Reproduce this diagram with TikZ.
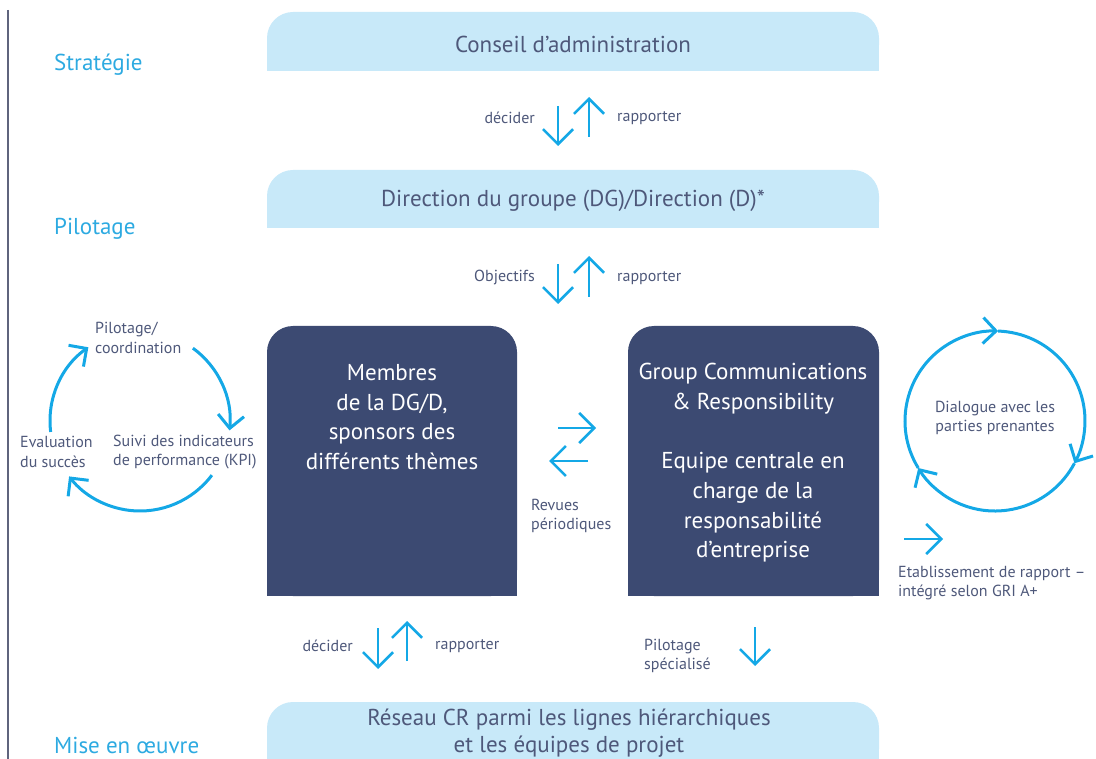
\documentclass[tikz,border=0pt]{standalone}
\usepackage{fontspec}
\setmainfont{PT Sans}
\usetikzlibrary{arrows.meta}
\definecolor{boxlight}{RGB}{200,233,249}
\definecolor{boxdark}{RGB}{60,74,114}
\definecolor{arrowblue}{RGB}{20,168,230}
\definecolor{tierblue}{RGB}{45,170,225}
\definecolor{textgray}{RGB}{78,88,122}
\definecolor{rulegray}{RGB}{95,100,125}
\tikzset{
  boxtext/.style={text=textgray, font=\fontsize{23}{27}\selectfont, align=center, inner sep=0pt},
  darktext/.style={text=white, font=\fontsize{23}{29.7}\selectfont, align=center, inner sep=0pt},
  small/.style={text=textgray, font=\fontsize{16}{19.5}\selectfont, align=left, inner sep=0pt},
  tier/.style={text=tierblue, font=\fontsize{23}{25}\selectfont, anchor=west, inner sep=0pt},
  arr/.style={draw=arrowblue, line width=2.6pt, -{Straight Barb[length=15pt,width=30pt]}},
  cyc/.style={draw=arrowblue, line width=3pt, -{Straight Barb[length=13pt,width=26pt]}},
}
\begin{document}
\begin{tikzpicture}[x=1pt,y=-1pt]
\useasboundingbox (0,0) rectangle (1096,759);
\pgfmathsetmacro{\r}{26}
\draw[rulegray, line width=1.2pt] (8,10) -- (8,759);
% boxes (round top, square bottom)
\fill[boxlight, rounded corners=\r] (267,12) rectangle (879,71);
\fill[boxlight] (267,45) rectangle (879,71);
\fill[boxlight, rounded corners=\r] (267,170) rectangle (879,228);
\fill[boxlight] (267,200) rectangle (879,228);
\fill[boxdark, rounded corners=\r] (267,326) rectangle (517,596);
\fill[boxdark] (267,400) rectangle (517,596);
\fill[boxdark, rounded corners=\r] (628,326) rectangle (879,596);
\fill[boxdark] (628,400) rectangle (879,596);
\fill[boxlight, rounded corners=\r] (267,702) rectangle (879,775);
\fill[boxlight] (267,740) rectangle (879,775);
% tiers
\node[tier] (strategie) at (54,65) {Stratégie};
\node[tier] (pilotage) at (54,229) {Pilotage};
\node[tier] (miseoeuvre) at (54,745) {Mise en œuvre};
% box texts
\node[boxtext] (conseil) at (573,44) {Conseil d’administration};
\node[boxtext] (direction) at (573,201) {Direction du groupe (DG)/Direction (D)*};
\node[boxtext] (reseau) at (569,733) {Réseau CR parmi les lignes hiérarchiques\\et les équipes de projet};
\node[darktext] (membres) at (392,417) {Membres\\de la DG/D,\\sponsors des\\différents thèmes};
\node[darktext] (groupcr) at (753,463) {Group Communications\\\& Responsibility\\[29.7pt]Equipe centrale en\\charge de la\\responsabilité\\d’entreprise};
% labels
\node[small, anchor=east] (decider1) at (535,118) {décider};
\node[small, anchor=west] (rapporter1) at (617,118) {rapporter};
\node[small, anchor=east] (objectifs) at (535,278) {Objectifs};
\node[small, anchor=west] (rapporter2) at (617,278) {rapporter};
\node[small, anchor=west] (revues) at (531,516) {Revues\\périodiques};
\node[small, anchor=east] (decider2) at (353,646) {décider};
\node[small, anchor=west] (rapporter3) at (435,646) {rapporter};
\node[small, anchor=west] (specialise) at (644,656) {Pilotage\\spécialisé};
\node[small, anchor=west] (coordination) at (95,338) {Pilotage/\\coordination};
\node[small, anchor=west] (evaluation) at (20,452) {Evaluation\\du succès};
\node[small, anchor=west] (suivi) at (113,452) {Suivi des indicateurs\\de performance (KPI)};
\node[small, align=center] (dialogue) at (995,418) {Dialogue avec les\\parties prenantes};
\node[small, anchor=west] (etablissement) at (898,583) {Etablissement de rapport –\\intégré selon GRI A+};
% arrow ends
\coordinate (d1a) at (558,106); \coordinate (d1b) at (558,146);
\coordinate (u1a) at (589,137); \coordinate (u1b) at (589,97);
\coordinate (d2a) at (558,264); \coordinate (d2b) at (558,304);
\coordinate (u2a) at (589,297); \coordinate (u2b) at (589,256);
\coordinate (r1a) at (558,428); \coordinate (r1b) at (596,428);
\coordinate (l1a) at (588,461); \coordinate (l1b) at (549,461);
\coordinate (d3a) at (378,628); \coordinate (d3b) at (378,669);
\coordinate (u3a) at (407,661); \coordinate (u3b) at (407,621);
\coordinate (d4a) at (755,627); \coordinate (d4b) at (755,666);
\coordinate (r2a) at (904,539); \coordinate (r2b) at (943,539);
\draw[arr] (d1a) -- (d1b);
\draw[arr] (u1a) -- (u1b);
\draw[arr] (d2a) -- (d2b);
\draw[arr] (u2a) -- (u2b);
\draw[arr] (r1a) -- (r1b);
\draw[arr] (l1a) -- (l1b);
\draw[arr] (d3a) -- (d3b);
\draw[arr] (u3a) -- (u3b);
\draw[arr] (d4a) -- (d4b);
\draw[arr] (r2a) -- (r2b);
% left cycle
\coordinate (cycleL) at (140,421);
\draw[cyc] (cycleL) ++(-187:90) arc[start angle=-187, end angle=-125, radius=90];
\draw[cyc] (cycleL) ++(-54:90) arc[start angle=-54, end angle=6, radius=90];
\draw[cyc] (cycleL) ++(37:90) arc[start angle=37, end angle=142, radius=90];
% right circle
\coordinate (cycleR) at (995,421);
\draw[cyc] (cycleR) ++(-88:90) arc[start angle=-88, end angle=28, radius=90];
\draw[cyc] (cycleR) ++(28:90) arc[start angle=28, end angle=148.5, radius=90];
\draw[cyc] (cycleR) ++(148.5:90) arc[start angle=148.5, end angle=272, radius=90];
\end{tikzpicture}
\end{document}
